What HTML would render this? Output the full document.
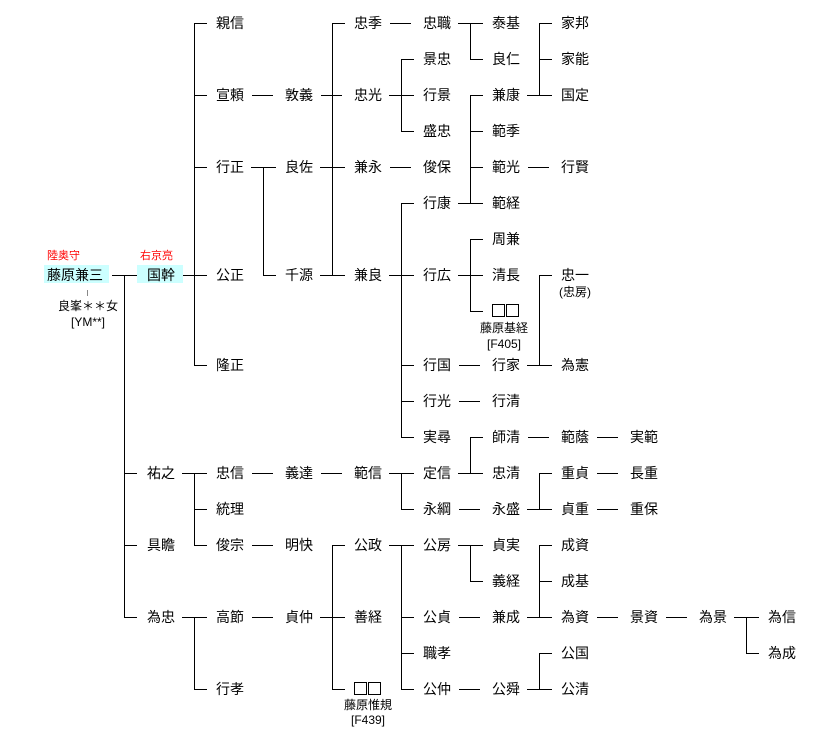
<!DOCTYPE html>
<html><head><meta charset="utf-8"><style>
body{margin:0;background:#fff;width:822px;height:743px;overflow:hidden;position:relative;font-family:"Liberation Sans","Noto Sans CJK JP",sans-serif;}
.n{position:absolute;font-size:14px;line-height:16px;white-space:nowrap;color:#000;}
.s{position:absolute;font-size:12px;line-height:14px;white-space:nowrap;color:#000;text-align:center;width:80px;}
.r{position:absolute;font-size:11px;line-height:12px;color:#f00;white-space:nowrap;}
.box{position:absolute;background:#ccffff;}
.sq{position:absolute;width:11px;height:11px;border:1px solid #000;}
svg{position:absolute;left:0;top:0;}
</style></head><body>
<div class="box" style="left:44px;top:265px;width:65px;height:18px"></div>
<div class="box" style="left:137px;top:265px;width:46px;height:18px"></div>
<svg width="822" height="743" shape-rendering="crispEdges"><path stroke="#000" stroke-width="1" fill="none" d="
M112 275.5H137 M124.5 275V617 M124 473.5H137 M124 545.5H137 M124 617.5H137
M183 275.5H207 M194.5 23V365 M194 23.5H207 M194 95.5H207 M194 167.5H207 M194 365.5H207
M182 473.5H207 M194.5 473V545 M194 509.5H207 M194 545.5H207
M182 617.5H207 M194.5 617V689 M194 689.5H207
M252 95.5H273 M252 473.5H273 M252 545.5H273 M252 617.5H273
M251 167.5H276 M263.5 167V275 M263 275.5H276
M321 95.5H342 M321 473.5H342
M320 167.5H345 M320 275.5H345 M332.5 23V275 M332 23.5H345
M320 617.5H345 M332.5 545V689 M332 545.5H345 M332 689.5H345
M390 23.5H411 M390 167.5H411
M389 95.5H414 M401.5 59V131 M401 59.5H414 M401 131.5H414
M389 275.5H414 M401.5 203V437 M401 203.5H414 M401 365.5H414 M401 401.5H414 M401 437.5H414
M389 473.5H414 M401.5 473V509 M401 509.5H414
M389 545.5H414 M401.5 545V689 M401 617.5H414 M401 653.5H414 M401 689.5H414
M459 365.5H480 M459 401.5H480 M459 509.5H480 M459 617.5H480 M459 689.5H480
M458 23.5H483 M470.5 23V59 M470 59.5H483
M458 203.5H483 M470.5 95V203 M470 95.5H483 M470 131.5H483 M470 167.5H483
M458 275.5H483 M470.5 239V311 M470 239.5H483 M470 311.5H483
M458 473.5H483 M470.5 437V473 M470 437.5H483
M458 545.5H483 M470.5 545V581 M470 581.5H483
M528 167.5H549 M528 437.5H549
M527 95.5H552 M539.5 23V95 M539 23.5H552 M539 59.5H552
M527 365.5H552 M539.5 275V365 M539 275.5H552
M527 509.5H552 M539.5 473V509 M539 473.5H552
M527 617.5H552 M539.5 545V617 M539 545.5H552 M539 581.5H552
M527 689.5H552 M539.5 653V689 M539 653.5H552
M597 437.5H618 M597 473.5H618 M597 509.5H618 M597 617.5H618
M666 617.5H687
M734 617.5H759 M746.5 617V653 M746 653.5H759
"/><path stroke="#888" d="M87.5 290V296"/></svg>
<div class="r" style="left:47px;top:250px">陸奥守</div>
<div class="r" style="left:140px;top:250px">右京亮</div>
<div class="n" style="left:47px;top:267px">藤原兼三</div>
<div class="s" style="left:48px;top:299px">良峯＊＊女</div>
<div class="s" style="left:48px;top:315px">[YM**]</div>
<div class="n" style="left:147px;top:267px">国幹</div>
<div class="n" style="left:147px;top:465px">祐之</div>
<div class="n" style="left:147px;top:537px">具瞻</div>
<div class="n" style="left:147px;top:609px">為忠</div>

<div class="n" style="left:216px;top:15px">親信</div>
<div class="n" style="left:216px;top:87px">宣頼</div>
<div class="n" style="left:216px;top:159px">行正</div>
<div class="n" style="left:216px;top:267px">公正</div>
<div class="n" style="left:216px;top:357px">隆正</div>
<div class="n" style="left:216px;top:465px">忠信</div>
<div class="n" style="left:216px;top:501px">統理</div>
<div class="n" style="left:216px;top:537px">俊宗</div>
<div class="n" style="left:216px;top:609px">高節</div>
<div class="n" style="left:216px;top:681px">行孝</div>

<div class="n" style="left:285px;top:87px">敦義</div>
<div class="n" style="left:285px;top:159px">良佐</div>
<div class="n" style="left:285px;top:267px">千源</div>
<div class="n" style="left:285px;top:465px">義達</div>
<div class="n" style="left:285px;top:537px">明快</div>
<div class="n" style="left:285px;top:609px">貞仲</div>

<div class="n" style="left:354px;top:15px">忠季</div>
<div class="n" style="left:354px;top:87px">忠光</div>
<div class="n" style="left:354px;top:159px">兼永</div>
<div class="n" style="left:354px;top:267px">兼良</div>
<div class="n" style="left:354px;top:465px">範信</div>
<div class="n" style="left:354px;top:537px">公政</div>
<div class="n" style="left:354px;top:609px">善経</div>
<div class="sq" style="left:354px;top:682px"></div><div class="sq" style="left:368px;top:682px"></div>
<div class="s" style="left:328px;top:698px">藤原惟規</div>
<div class="s" style="left:328px;top:713px">[F439]</div>

<div class="n" style="left:423px;top:15px">忠職</div>
<div class="n" style="left:423px;top:51px">景忠</div>
<div class="n" style="left:423px;top:87px">行景</div>
<div class="n" style="left:423px;top:123px">盛忠</div>
<div class="n" style="left:423px;top:159px">俊保</div>
<div class="n" style="left:423px;top:195px">行康</div>
<div class="n" style="left:423px;top:267px">行広</div>
<div class="n" style="left:423px;top:357px">行国</div>
<div class="n" style="left:423px;top:393px">行光</div>
<div class="n" style="left:423px;top:429px">実尋</div>
<div class="n" style="left:423px;top:465px">定信</div>
<div class="n" style="left:423px;top:501px">永綱</div>
<div class="n" style="left:423px;top:537px">公房</div>
<div class="n" style="left:423px;top:609px">公貞</div>
<div class="n" style="left:423px;top:645px">職孝</div>
<div class="n" style="left:423px;top:681px">公仲</div>

<div class="n" style="left:492px;top:15px">泰基</div>
<div class="n" style="left:492px;top:51px">良仁</div>
<div class="n" style="left:492px;top:87px">兼康</div>
<div class="n" style="left:492px;top:123px">範季</div>
<div class="n" style="left:492px;top:159px">範光</div>
<div class="n" style="left:492px;top:195px">範経</div>
<div class="n" style="left:492px;top:231px">周兼</div>
<div class="n" style="left:492px;top:267px">清長</div>
<div class="sq" style="left:492px;top:304px"></div><div class="sq" style="left:506px;top:304px"></div>
<div class="s" style="left:464px;top:321px">藤原基経</div>
<div class="s" style="left:464px;top:337px">[F405]</div>
<div class="n" style="left:492px;top:357px">行家</div>
<div class="n" style="left:492px;top:393px">行清</div>
<div class="n" style="left:492px;top:429px">師清</div>
<div class="n" style="left:492px;top:465px">忠清</div>
<div class="n" style="left:492px;top:501px">永盛</div>
<div class="n" style="left:492px;top:537px">貞実</div>
<div class="n" style="left:492px;top:573px">義経</div>
<div class="n" style="left:492px;top:609px">兼成</div>
<div class="n" style="left:492px;top:681px">公舜</div>

<div class="n" style="left:561px;top:15px">家邦</div>
<div class="n" style="left:561px;top:51px">家能</div>
<div class="n" style="left:561px;top:87px">国定</div>
<div class="n" style="left:561px;top:159px">行賢</div>
<div class="n" style="left:561px;top:267px">忠一</div>
<div class="s" style="left:535px;top:285px">(忠房)</div>
<div class="n" style="left:561px;top:357px">為憲</div>
<div class="n" style="left:561px;top:429px">範蔭</div>
<div class="n" style="left:561px;top:465px">重貞</div>
<div class="n" style="left:561px;top:501px">貞重</div>
<div class="n" style="left:561px;top:537px">成資</div>
<div class="n" style="left:561px;top:573px">成基</div>
<div class="n" style="left:561px;top:609px">為資</div>
<div class="n" style="left:561px;top:645px">公国</div>
<div class="n" style="left:561px;top:681px">公清</div>

<div class="n" style="left:630px;top:429px">実範</div>
<div class="n" style="left:630px;top:465px">長重</div>
<div class="n" style="left:630px;top:501px">重保</div>
<div class="n" style="left:630px;top:609px">景資</div>
<div class="n" style="left:699px;top:609px">為景</div>
<div class="n" style="left:768px;top:609px">為信</div>
<div class="n" style="left:768px;top:645px">為成</div>
</body></html>
